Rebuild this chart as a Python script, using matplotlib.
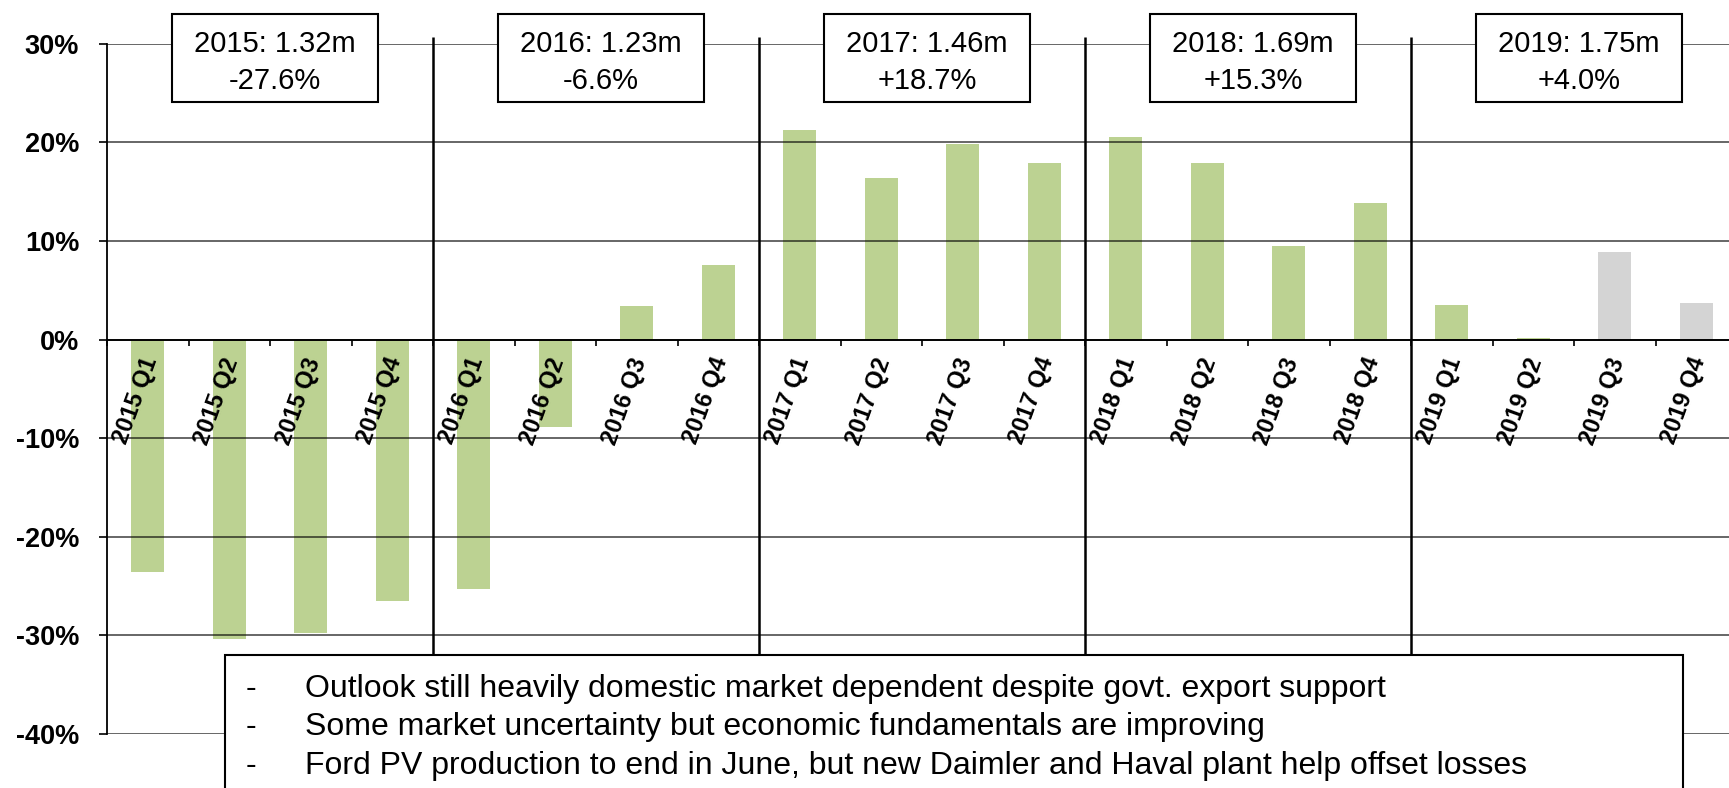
import matplotlib.pyplot as plt
import matplotlib.patches as patches
import numpy as np

plt.rcParams['font.family'] = ['Liberation Sans', 'DejaVu Sans']

# quarterly growth, % year on year
quarters = ['2015 Q1', '2015 Q2', '2015 Q3', '2015 Q4',
            '2016 Q1', '2016 Q2', '2016 Q3', '2016 Q4',
            '2017 Q1', '2017 Q2', '2017 Q3', '2017 Q4',
            '2018 Q1', '2018 Q2', '2018 Q3', '2018 Q4',
            '2019 Q1', '2019 Q2', '2019 Q3', '2019 Q4']
growth = [-23.6, -30.4, -29.8, -26.5,
          -25.3, -8.9, 3.4, 7.6,
          21.2, 16.4, 19.8, 17.9,
          20.5, 17.9, 9.5, 13.8,
          3.5, 0.2, 8.9, 3.7]
forecast = [False] * 18 + [True, True]

# annual totals shown in the boxes
years = ['2015', '2016', '2017', '2018', '2019']
annual_units = ['1.32m', '1.23m', '1.46m', '1.69m', '1.75m']
annual_change = ['-27.6%', '-6.6%', '+18.7%', '+15.3%', '+4.0%']

yticks = [-40, -30, -20, -10, 0, 10, 20, 30]
ytick_labels = ['-40%', '-30%', '-20%', '-10%', '0%', '10%', '20%', '30%']

notes = ['Outlook still heavily domestic market dependent despite govt. export support',
         'Some market uncertainty but economic fundamentals are improving',
         'Ford PV production to end in June, but new Daimler and Haval plant help offset losses']

GREEN = '#bcd292'
GREY = '#d4d4d4'

W, H = 1729, 788
fig = plt.figure(figsize=(W / 100, H / 100), dpi=100)
ax = fig.add_axes([107 / W, 54 / H, 1630 / W, 690.3 / H])

x = np.arange(len(quarters))
colors = [GREY if f else GREEN for f in forecast]
ax.bar(x, growth, width=0.4, color=colors, zorder=2)

ax.set_xlim(-0.5, len(quarters) - 0.5)
ax.set_ylim(-40, 30)

# horizontal gridlines sit on top of the bars
for y in yticks:
    if y != 0:
        ax.axhline(y, color='black', alpha=0.6, lw=1.4, zorder=3)

for side in ['top', 'right']:
    ax.spines[side].set_visible(False)
ax.spines['left'].set_color('black')
ax.spines['left'].set_linewidth(1.3)
ax.spines['bottom'].set_position(('data', 0))
ax.spines['bottom'].set_color('black')
ax.spines['bottom'].set_linewidth(1.4)
ax.spines['bottom'].set_zorder(4)

ax.set_yticks(yticks)
ax.set_yticklabels(ytick_labels, fontsize=19.5, fontweight='bold')
ax.tick_params(axis='y', direction='out', length=6, width=1.2, pad=14)

ax.set_xticks(np.arange(-0.5, len(quarters), 1))
ax.set_xticklabels([])
ax.tick_params(axis='x', direction='out', length=4, width=1.2)

# rotated quarter labels just under the zero line
for xi, lab in zip(x, quarters):
    ax.text(xi + 0.04, -1.9, lab, rotation=70, rotation_mode='anchor',
            ha='right', va='center', fontsize=17, fontweight='bold', zorder=5)

# year separators
for b in np.arange(3.5, len(quarters) - 1, 4):
    ax.plot([b, b], [-40, 30.7], color='black', lw=1.8, zorder=4,
            clip_on=False, solid_capstyle='butt')

# annual summary boxes
box_w, box_h = 2.53, 9.0
for i, (yr, units, chg) in enumerate(zip(years, annual_units, annual_change)):
    cx = 4 * i + 1.5 + 0.06
    cy = 28.55
    ax.add_patch(patches.Rectangle((cx - box_w / 2, cy - box_h / 2), box_w, box_h,
                                   facecolor='white', edgecolor='black', lw=1.5,
                                   zorder=6, clip_on=False))
    ax.text(cx, cy - 0.45, f'{yr}: {units}\n{chg}', ha='center', va='center',
            fontsize=21, linespacing=1.4, zorder=7)

# commentary box at the bottom
fig.patches.append(patches.Rectangle((225 / W, -0.05), (1683 - 225) / W, 133 / H + 0.05,
                                     transform=fig.transFigure, facecolor='white',
                                     edgecolor='black', lw=1.5, zorder=8))
for k, line in enumerate(notes):
    yy = 1 - (689 + 38.5 * k) / H
    fig.text(251 / W, yy, '-', ha='center', va='center', fontsize=23, zorder=9)
    fig.text(305 / W, yy, line, ha='left', va='center', fontsize=23, zorder=9)

fig.savefig('out.png', dpi=100)
